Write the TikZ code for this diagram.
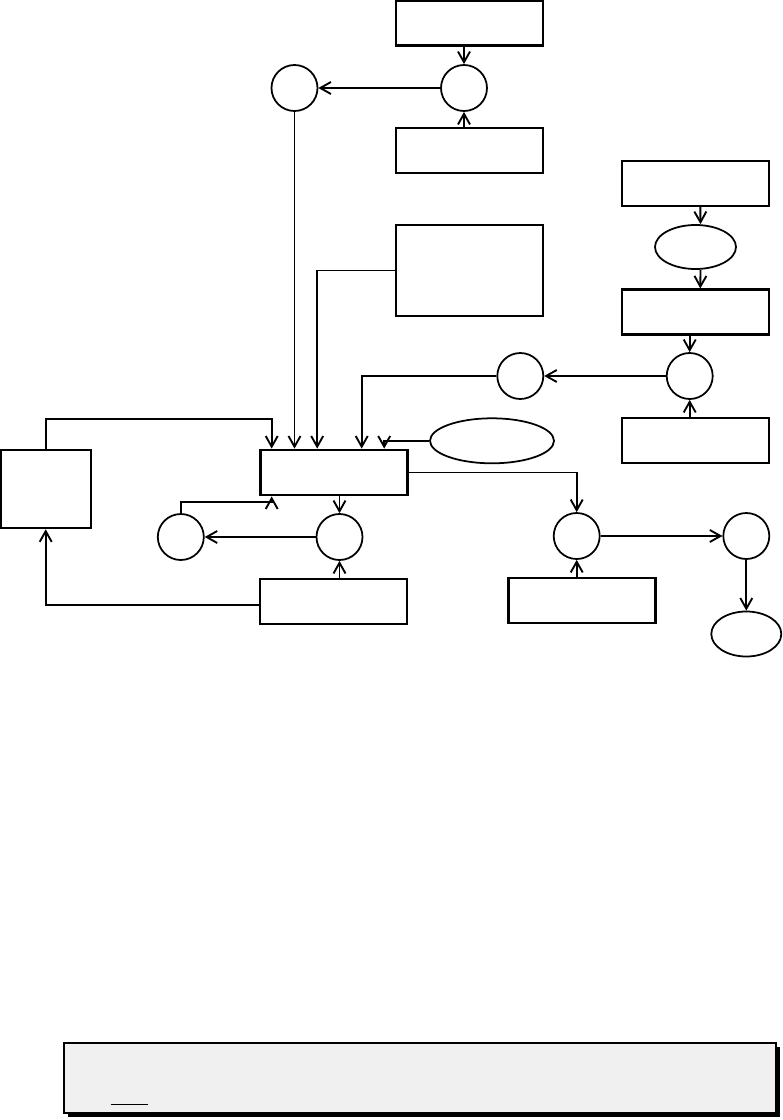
\documentclass[tikz,border=0pt]{standalone}
\usetikzlibrary{arrows.meta,calc,shapes.geometric}
\definecolor{Ink}{HTML}{000000}
\definecolor{NoteGray}{HTML}{F0F0F0}
\tikzset{
  block/.style={
    draw=Ink, line width=1.8pt, minimum width=4.41cm, minimum height=1.35cm,
    inner sep=0pt
  },
  hubblock/.style={block, line width=2.4pt},
  place/.style={
    circle, draw=Ink, line width=1.5pt, minimum size=1.38cm, inner sep=0pt
  },
  oval/.style={ellipse, draw=Ink, line width=1.5pt, inner sep=0pt},
  link/.style={-{Straight Barb[length=3.2mm,width=3.6mm]}, line width=1.6pt, draw=Ink},
  note/.style={
    draw=Ink, line width=2pt, fill=NoteGray,
    minimum width=21.36cm, minimum height=2.1cm
  },
  noteshadow/.style={fill=Ink, minimum width=21.36cm, minimum height=2.1cm}
}

\begin{document}
\begin{tikzpicture}[x=0.03cm,y=-0.03cm]
        \useasboundingbox (0,0) rectangle (782,1120);
        \node[block] (top) at (469.5,23) {};
        \node[place] (topjoin) at (464,88) {};
        \node[block] (topsource) at (469.5,150.5) {};
        \node[place] (topout) at (294.5,88) {};
        \node[block,minimum height=2.73cm] (tall) at (469.5,270.5) {};
        \node[block] (rone) at (695.3,183.3) {};
        \node[oval,minimum width=2.43cm,minimum height=1.32cm] (roval) at (695.5,247) {};
        \node[block] (rtwo) at (695.3,312) {};
        \node[place] (rjoin) at (689.7,376) {};
        \node[block] (rthree) at (695.3,440.8) {};
        \node[place] (rout) at (520.3,376) {};
        \node[oval,minimum width=3.72cm,minimum height=1.35cm] (cue) at (492,440.8) {};
        \node[hubblock] (hub) at (333.7,472.5) {};
        \node[block,minimum width=2.7cm,minimum height=2.34cm] (side) at (45.7,489.2) {};
        \node[place] (hubjoin) at (339.5,537) {};
        \node[place] (hubout) at (180.8,537) {};
        \node[block] (hubsource) at (333.8,601.2) {};
        \node[place] (fork) at (576.7,536) {};
        \node[block] (forksource) at (582,600.5) {};
        \node[place] (sink) at (746.3,536) {};
        \node[oval,minimum width=2.1cm,minimum height=1.35cm] (end) at (746.3,634) {};
        \draw[link] (top.south -| topjoin) -- (topjoin.north);
        \draw[link] (topsource.north -| topjoin) -- (topjoin.south);
        \draw[link] (topjoin) -- (topout);
        \draw[link] (topout.south) -- (topout.south |- hub.north);
        \draw[link] (tall.west) -| ($(hub.north)+(-16.5,0)$);
        \draw[link] ($(rone.south)+(5,0)$) -- ($(roval.north)+(5,0)$);
        \draw[link] ($(roval.south)+(5,0)$) -- ($(rtwo.north)+(5,0)$);
        \draw[link] (rtwo.south -| rjoin) -- (rjoin.north);
        \draw[link] (rthree.north -| rjoin) -- (rjoin.south);
        \draw[link] (rjoin) -- (rout);
        \draw[link] (rout.west) -| ($(hub.north)+(28,0)$);
        \draw[link] (cue.west) -| ($(hub.north)+(50.5,0)$);
        \draw[link] (side.north) -- ++(0,-30) -| ($(hub.north)+(-62,0)$);
        \draw[link] (hub.south -| hubjoin) -- (hubjoin.north);
        \draw[link] (hubsource.north -| hubjoin) -- (hubjoin.south);
        \draw[link] (hubjoin) -- (hubout);
        \draw[link] (hubout.north) -- ++(0,-11) -| ($(hub.south)+(-62,0)$);
        \draw[link] ($(hubsource.west)+(0,4)$) -| (side.south);
        \draw[link] (hub.east) -| (fork.north);
        \draw[link] (forksource.north -| fork) -- (fork.south);
        \draw[link] (fork) -- (sink);
        \draw[link] (sink) -- (end);
        \node[noteshadow] (noteshadow) at (424,1082) {};
        \node[note] (note) at (420,1078) {};
        \draw[line width=1pt] ($(note.south west)+(48,-10)$) -- ++(37,0);
      \end{tikzpicture}
\end{document}
